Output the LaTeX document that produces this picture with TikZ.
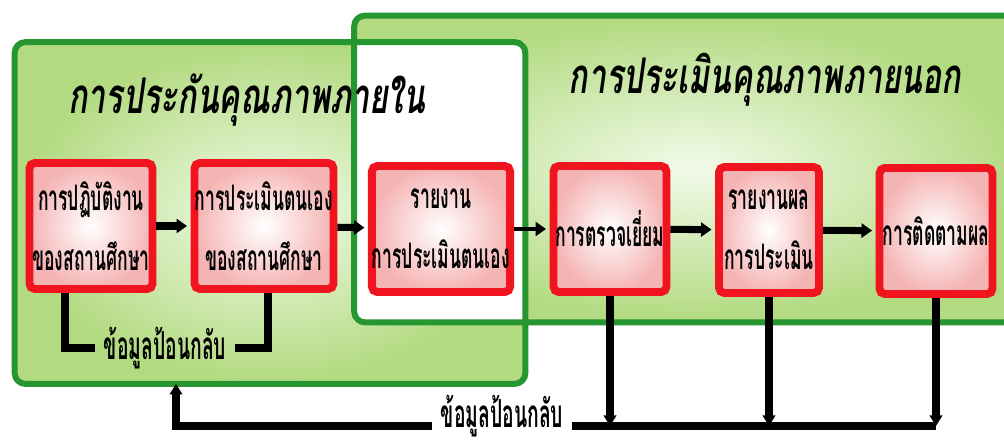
\documentclass[tikz,border=0pt]{standalone}
\usepackage{fontspec}
\usetikzlibrary{arrows.meta,calc}
\newfontfamily\thaibox[Script=Thai,FakeStretch=0.5]{Loma}
\newfontfamily\thaihead[Script=Thai,FakeStretch=0.65]{Loma}
\definecolor{zonegreen}{RGB}{38,150,48}
\definecolor{zoneouter}{RGB}{178,218,128}
\definecolor{zoneinner}{RGB}{242,251,234}
\definecolor{boxred}{RGB}{240,20,30}
\definecolor{boxpink}{RGB}{245,180,180}

\begin{document}
\begin{tikzpicture}[x=0.02cm, y=-0.02cm,
    zonefill/.style={shading=radial, inner color=zoneinner, outer color=zoneouter, rounded corners=6pt, inner sep=0pt},
    zoneline/.style={draw=zonegreen, line width=3.4pt, rounded corners=6pt},
    stepbox/.style={draw=boxred, line width=4.5pt, rounded corners=3pt, shading=radial, inner color=white, outer color=boxpink,
        align=center, inner sep=0pt, minimum height=2.52cm, font=\thaibox\bfseries\fontsize{20}{22}\selectfont},
    head/.style={font=\thaihead\bfseries\itshape\fontsize{28}{30}\selectfont},
    fbtext/.style={inner sep=5pt, font=\thaibox\bfseries\fontsize{22}{24}\selectfont},
    flow/.style={line width=4pt, shorten >=2pt, -{Triangle[length=6pt, width=8pt]}},
    fb/.style={line width=4pt, line join=miter},
    fbtip/.style={fb, -{Triangle[length=6pt, width=7pt]}}]
  \useasboundingbox (0,0) rectangle (1004,446);
  \clip (0,0) rectangle (1004,446);

  % the two zones, the overlap is left white
  \node[zonefill, minimum width=13.5cm, minimum height=6.12cm] (zout) at (692,169) {};
  \node[zonefill, minimum width=10.2cm, minimum height=6.82cm] (zin) at (270,213) {};
  \fill[white] (zout.west |- zin.north) rectangle (zin.east |- zout.south);
  \draw[zoneline] (zout.south west) rectangle (zout.north east);
  \draw[zoneline] (zin.south west) rectangle (zin.north east);

  \node[head] (tin) at (247,100) {การประกันคุณภาพภายใน};
  \node[head] (tout) at (765,80) {การประเมินคุณภาพภายนอก};

  % steps
  \node[stepbox, minimum width=2.46cm] (b1) at (91,226) {การปฏิบัติงาน\\[12pt]ของสถานศึกษา};
  \node[stepbox, minimum width=2.78cm] (b2) at (264,226) {การประเมินตนเอง\\[12pt]ของสถานศึกษา};
  \node[stepbox, minimum width=2.76cm] (b3) at (441,229) {รายงาน\\[12pt]การประเมินตนเอง};
  \node[stepbox, minimum width=2.26cm] (b4) at (610,229) {การตรวจเยี่ยม};
  \node[stepbox, minimum width=2.0cm] (b5) at (769,230) {รายงานผล\\[12pt]การประเมิน};
  \node[stepbox, minimum width=2.26cm] (b6) at (936,231) {การติดตามผล};

  \draw[flow] (b1) -- (b2);
  \draw[flow] (b2) -- (b3);
  \draw[flow, line width=2.5pt] (b3) -- (b4);
  \draw[flow] (b4) -- (b5);
  \draw[flow] (b5) -- (b6);

  % inner feedback
  \node[fbtext] (fb1) at (165,348) {ข้อมูลป้อนกลับ};
  \draw[fb] ($(b1.south)+(-26,0)$) |- (fb1.west);
  \draw[fb] (fb1.east) -| ($(b2.south)+(4,0)$);

  % outer feedback
  \coordinate (bus) at (0,426);
  \node[fbtext] (fb2) at (502,416) {ข้อมูลป้อนกลับ};
  \foreach \b in {b4,b5,b6}
    \draw[fbtip] (\b.south) -- (\b.south |- bus);
  \draw[fb] (fb2.east |- bus) -- (b6.south |- bus);
  \draw[fbtip] (fb2.west |- bus) -| ($(zin.south)+(-94,0)$);
\end{tikzpicture}
\end{document}
